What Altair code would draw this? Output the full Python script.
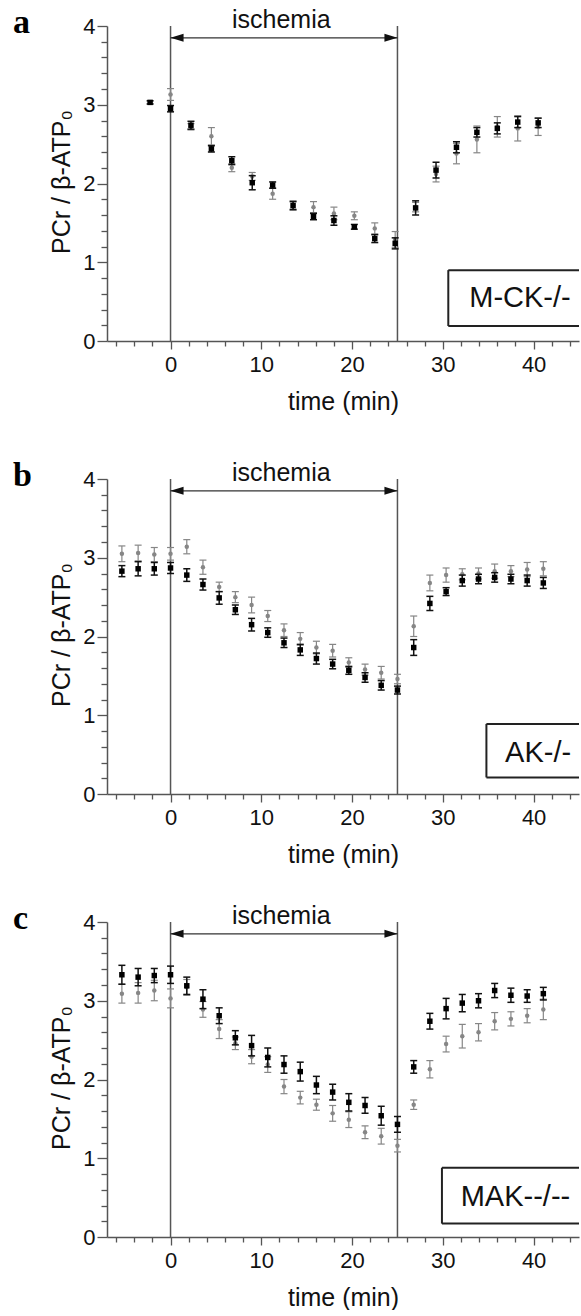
import altair as alt
import pandas as pd

# ---------------- data ----------------
# panel a (M-CK-/-)
time_a = [-2.25, 0, 2.25, 4.5, 6.75, 9, 11.25, 13.5, 15.75, 18, 20.25, 22.5, 24.75,
          27, 29.25, 31.5, 33.75, 36, 38.25, 40.5]
black_a = [3.03, 2.95, 2.74, 2.44, 2.29, 2.01, 1.98, 1.72, 1.58, 1.53, 1.45, 1.30, 1.24,
           1.69, 2.17, 2.46, 2.65, 2.70, 2.78, 2.77]
black_a_err = [0.02, 0.04, 0.05, 0.04, 0.05, 0.09, 0.04, 0.05, 0.04, 0.06, 0.03, 0.05, 0.07,
               0.09, 0.10, 0.07, 0.06, 0.07, 0.07, 0.06]
gray_a = [None, 3.13, 2.72, 2.60, 2.20, 2.09, 1.87, 1.72, 1.70, 1.62, 1.59, 1.43, 1.29,
          1.70, 2.12, 2.38, 2.56, 2.72, 2.70, 2.72]
gray_a_err = [None, 0.075, 0.04, 0.11, 0.05, 0.05, 0.07, 0.06, 0.07, 0.08, 0.05, 0.07, 0.10,
              0.06, 0.10, 0.13, 0.17, 0.13, 0.16, 0.11]

# panels b and c share the sampling times
time_bc = [-5.36, -3.57, -1.79, 0, 1.79, 3.57, 5.36, 7.14, 8.93, 10.71, 12.5, 14.29,
           16.07, 17.86, 19.64, 21.43, 23.21, 25.0, 26.79, 28.57, 30.36, 32.14, 33.93,
           35.71, 37.5, 39.29, 41.07]

# panel b (AK-/-)
black_b = [2.83, 2.86, 2.86, 2.87, 2.78, 2.66, 2.49, 2.34, 2.15, 2.05, 1.92, 1.83, 1.72,
           1.65, 1.57, 1.48, 1.38, 1.32, 1.86, 2.42, 2.57, 2.71, 2.73, 2.75, 2.73, 2.71, 2.68]
black_b_err = [0.07, 0.09, 0.08, 0.07, 0.08, 0.07, 0.08, 0.06, 0.08, 0.06, 0.06, 0.07, 0.07,
               0.06, 0.05, 0.06, 0.06, 0.05, 0.10, 0.09, 0.05, 0.07, 0.06, 0.06, 0.06, 0.07, 0.07]
gray_b = [3.05, 3.06, 3.04, 3.05, 3.14, 2.88, 2.63, 2.50, 2.40, 2.26, 2.08, 1.97, 1.86,
          1.82, 1.67, 1.58, 1.54, 1.46, 2.13, 2.68, 2.78, 2.79, 2.80, 2.83, 2.83, 2.85, 2.86]
gray_b_err = [0.10, 0.10, 0.09, 0.08, 0.09, 0.09, 0.06, 0.07, 0.10, 0.07, 0.08, 0.08, 0.08,
              0.08, 0.06, 0.07, 0.08, 0.06, 0.13, 0.10, 0.09, 0.07, 0.07, 0.09, 0.07, 0.09, 0.09]

# panel c (MAK--/--)
black_c = [3.33, 3.30, 3.32, 3.33, 3.19, 3.02, 2.81, 2.53, 2.43, 2.28, 2.19, 2.10, 1.93,
           1.84, 1.71, 1.67, 1.54, 1.43, 2.16, 2.74, 2.90, 2.97, 3.00, 3.13, 3.07, 3.06, 3.09]
black_c_err = [0.12, 0.11, 0.09, 0.11, 0.11, 0.12, 0.10, 0.09, 0.13, 0.12, 0.11, 0.12, 0.11,
               0.10, 0.11, 0.10, 0.12, 0.10, 0.08, 0.10, 0.13, 0.11, 0.09, 0.09, 0.09, 0.08, 0.08]
gray_c = [3.09, 3.10, 3.13, 3.03, 3.17, 2.89, 2.64, 2.46, 2.29, 2.19, 1.91, 1.77, 1.68,
          1.57, 1.49, 1.33, 1.28, 1.16, 1.68, 2.13, 2.45, 2.55, 2.60, 2.74, 2.77, 2.81, 2.89]
gray_c_err = [0.12, 0.13, 0.13, 0.12, 0.10, 0.10, 0.12, 0.08, 0.09, 0.10, 0.09, 0.08, 0.07,
              0.10, 0.10, 0.08, 0.10, 0.08, 0.06, 0.11, 0.10, 0.15, 0.11, 0.11, 0.09, 0.09, 0.13]

ISCHEMIA = [0, 25]
X_TICKS = list(range(-6, 45, 2))
Y_TICKS = [round(i * 0.2, 1) for i in range(21)]

# ---------------- layout ----------------
X_DOMAIN = [-7, 45]
PW = 472
PH = 315
SANS = "Liberation Sans"
AXIS_GRAY = "#555555"
GRAY = "#868686"
INK = "#111111"


def X(field):
    return alt.X(
        field, type="quantitative",
        scale=alt.Scale(domain=X_DOMAIN, nice=False, zero=False),
        axis=alt.Axis(
            values=X_TICKS,
            labelExpr="datum.value % 10 === 0 ? datum.label : ''",
            tickSize={"condition": {"test": "datum.value % 10 === 0", "value": 8}, "value": 5},
            tickColor=AXIS_GRAY, tickWidth=1.3,
            domainColor=AXIS_GRAY, domainWidth=1.5,
            labelFont=SANS, labelFontSize=22, labelColor=INK, labelPadding=5,
            labelOverlap=False, labelFlush=False,
            title="time (min)", titleFont=SANS, titleFontSize=25, titleFontWeight="normal",
            titleColor=INK, titleY=68, titleBaseline="alphabetic",
            grid=False,
        ),
    )


def Y(field):
    return alt.Y(
        field, type="quantitative",
        scale=alt.Scale(domain=[0, 4], nice=False, zero=False),
        axis=alt.Axis(
            values=Y_TICKS,
            labelExpr="datum.value % 1 === 0 ? format(datum.value, 'd') : ''",
            tickSize={"condition": {"test": "datum.value % 1 === 0", "value": 10}, "value": 6},
            tickColor=AXIS_GRAY, tickWidth=1.3,
            domainColor=AXIS_GRAY, domainWidth=1.5,
            labelFont=SANS, labelFontSize=22, labelColor=INK, labelPadding=2,
            labelOverlap=False, labelFlush=False,
            title="PCr / β-ATP₀", titleFont=SANS, titleFontSize=25, titleFontWeight="normal",
            titleColor=INK, titleX=-38, titleY=PH / 2 - 2, titleAngle=270,
            titleAlign="center", titleBaseline="alphabetic",
            grid=False,
        ),
    )


def panel(letter, label, t, bv, be, gv, ge, box):
    db = pd.DataFrame({"t": t, "v": bv, "e": be})
    db["lo"] = db["v"] - db["e"]
    db["hi"] = db["v"] + db["e"]
    dg = pd.DataFrame({"t": t, "v": gv, "e": ge}).dropna()
    dg["lo"] = dg["v"] - dg["e"]
    dg["hi"] = dg["v"] + dg["e"]

    bx, ytop, ybot, tx, ty = box

    vlines = alt.Chart(pd.DataFrame({"t": ISCHEMIA, "v": [4, 4], "v0": [0, 0]})).mark_rule(
        color=AXIS_GRAY, strokeWidth=1.5).encode(x=X("t"), y=Y("v"), y2="v0")

    arrow = alt.Chart(pd.DataFrame({"t": [ISCHEMIA[0]], "t2": [ISCHEMIA[1]], "v": [3.85]})).mark_rule(
        color="#333333", strokeWidth=1.3).encode(x=X("t"), x2="t2", y=Y("v"))
    head_l = alt.Chart(pd.DataFrame({"t": [ISCHEMIA[0]], "v": [3.85]})).mark_point(
        shape="M -1 0 L 1 -0.62 L 1 0.62 Z", filled=True, size=170, color=INK, opacity=1,
        xOffset=6.5).encode(x=X("t"), y=Y("v"))
    head_r = alt.Chart(pd.DataFrame({"t": [ISCHEMIA[1]], "v": [3.85]})).mark_point(
        shape="M 1 0 L -1 -0.62 L -1 0.62 Z", filled=True, size=170, color=INK, opacity=1,
        xOffset=-6.5).encode(x=X("t"), y=Y("v"))
    isch = alt.Chart(pd.DataFrame({"t": [12.2], "v": [3.97], "s": ["ischemia"]})).mark_text(
        font=SANS, fontSize=25, color=INK, align="center", baseline="alphabetic").encode(
        x=X("t"), y=Y("v"), text="s:N")

    g_rule = alt.Chart(dg).mark_rule(color=GRAY, strokeWidth=1.2).encode(x=X("t"), y=Y("lo"), y2="hi")
    g_cap1 = alt.Chart(dg).mark_tick(color=GRAY, orient="horizontal", size=7, thickness=1.2, opacity=1).encode(
        x=X("t"), y=Y("lo"))
    g_cap2 = alt.Chart(dg).mark_tick(color=GRAY, orient="horizontal", size=7, thickness=1.2, opacity=1).encode(
        x=X("t"), y=Y("hi"))
    g_pt = alt.Chart(dg).mark_circle(color=GRAY, size=20, opacity=1).encode(x=X("t"), y=Y("v"))

    b_rule = alt.Chart(db).mark_rule(color=INK, strokeWidth=1.5).encode(x=X("t"), y=Y("lo"), y2="hi")
    b_cap1 = alt.Chart(db).mark_tick(color=INK, orient="horizontal", size=7, thickness=1.5, opacity=1).encode(
        x=X("t"), y=Y("lo"))
    b_cap2 = alt.Chart(db).mark_tick(color=INK, orient="horizontal", size=7, thickness=1.5, opacity=1).encode(
        x=X("t"), y=Y("hi"))
    b_pt = alt.Chart(db).mark_square(color="#000000", size=30, opacity=1).encode(x=X("t"), y=Y("v"))

    box_left = alt.Chart(pd.DataFrame({"t": [bx], "v": [ytop], "v0": [ybot]})).mark_rule(
        color="#222222", strokeWidth=2).encode(x=X("t"), y=Y("v"), y2="v0")
    box_h = alt.Chart(pd.DataFrame({"t": [bx, bx], "t2": [X_DOMAIN[1]] * 2, "v": [ytop, ybot]})).mark_rule(
        color="#222222", strokeWidth=2).encode(x=X("t"), x2="t2", y=Y("v"))
    box_txt = alt.Chart(pd.DataFrame({"t": [tx], "v": [ty], "s": [label]})).mark_text(
        font=SANS, fontSize=29, color=INK, align="center", baseline="middle").encode(
        x=X("t"), y=Y("v"), text="s:N")

    let = alt.Chart(pd.DataFrame({"s": [letter]})).mark_text(
        font="Liberation Serif", fontSize=34, fontWeight="bold", color="#000000",
        align="left", baseline="alphabetic").encode(
        x=alt.value(-94), y=alt.value(7), text="s:N")

    return alt.layer(vlines, arrow, head_l, head_r, isch, g_rule, g_cap1, g_cap2, g_pt,
                     b_rule, b_cap1, b_cap2, b_pt, box_left, box_h, box_txt, let).properties(
        width=PW, height=PH)


pa = panel("a", "M-CK-/-", time_a, black_a, black_a_err, gray_a, gray_a_err,
           (30.6, 0.90, 0.19, 38.5, 0.54))
pb = panel("b", "AK-/-", time_bc, black_b, black_b_err, gray_b, gray_b_err,
           (34.8, 0.89, 0.21, 40.5, 0.52))
pc = panel("c", "MAK--/--", time_bc, black_c, black_c_err, gray_c, gray_c_err,
           (29.9, 0.88, 0.17, 38.0, 0.51))

chart = alt.vconcat(pa, alt.vconcat(pb, pc, spacing=35), spacing=45).properties(
    padding={"left": 13, "top": 6, "right": 0, "bottom": 0},
    background="white",
).configure_view(stroke=None)

chart.save("out.html", embed_options={"renderer": "svg", "actions": False})
